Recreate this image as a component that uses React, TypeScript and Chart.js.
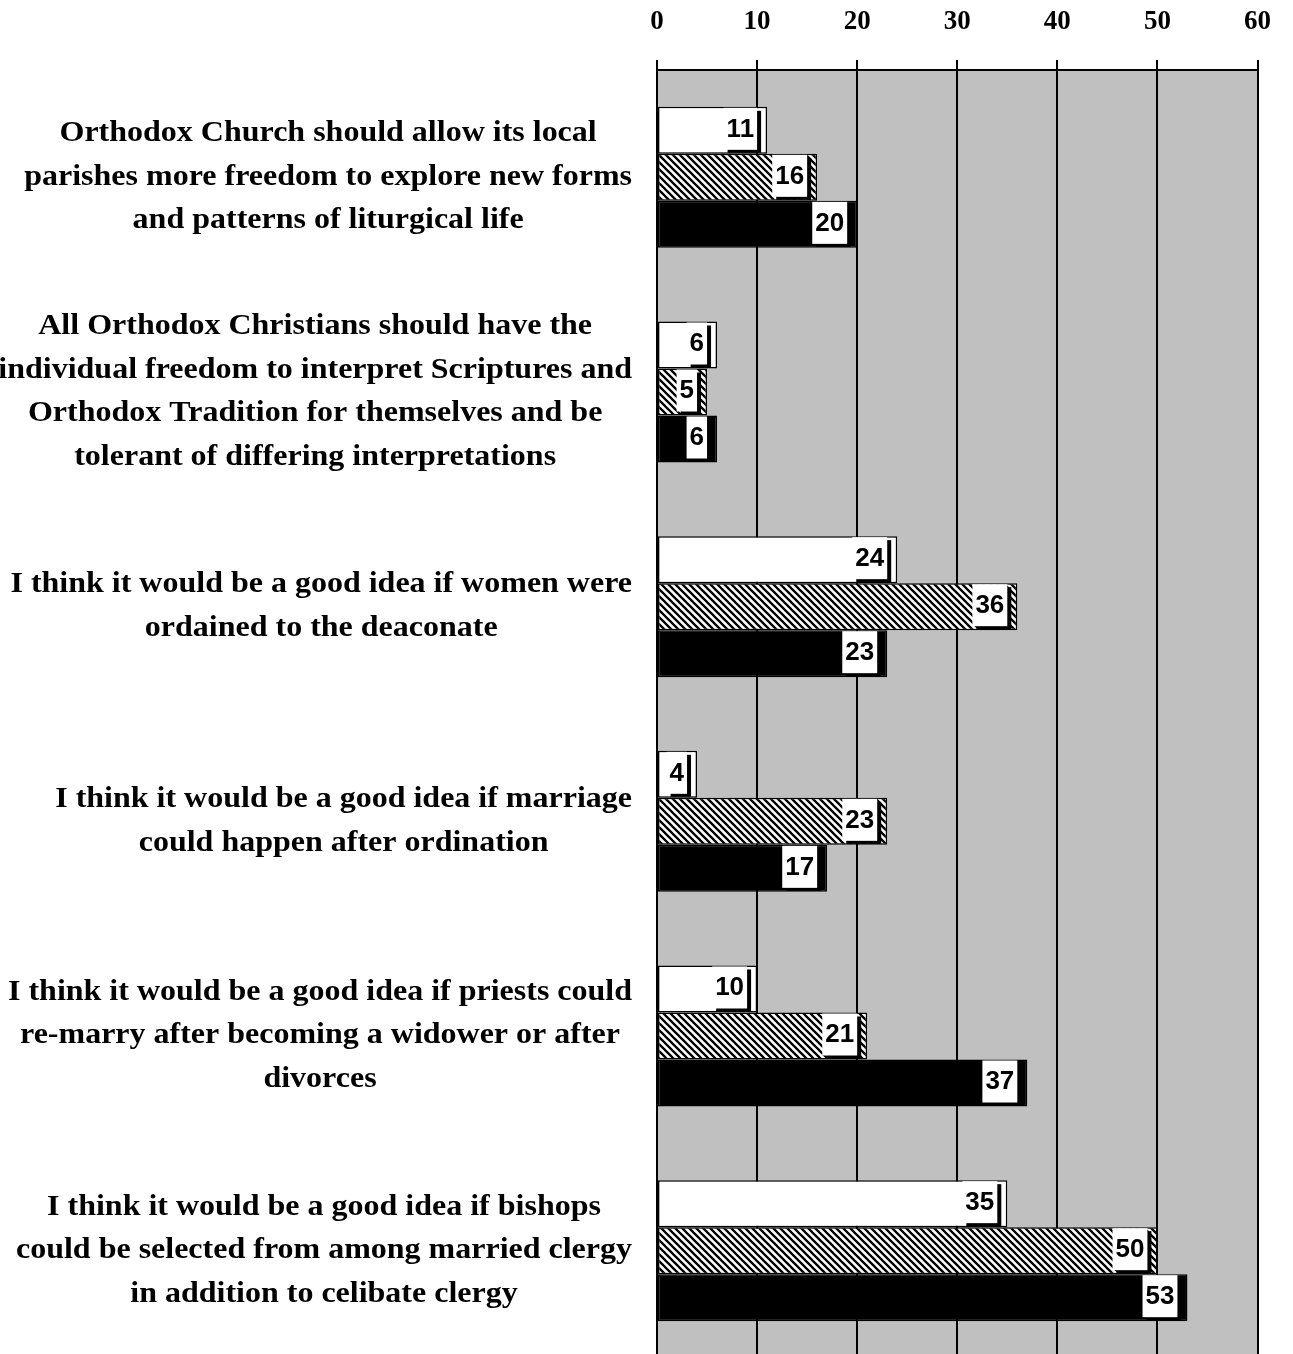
import React, { useEffect, useRef } from "react";
import { Chart, registerables } from "chart.js";

Chart.register(...registerables);

const categories: string[][] = [
  ["Orthodox Church should allow its local", "parishes more freedom to explore new forms", "and patterns of liturgical life"],
  ["All Orthodox Christians should have the", "individual freedom to interpret Scriptures and", "Orthodox Tradition for themselves and be", "tolerant of differing interpretations"],
  ["I think it would be a good idea if women were", "ordained to the deaconate"],
  ["I think it would be a good idea if marriage", "could happen after ordination"],
  ["I think it would be a good idea if priests could", "re-marry after becoming a widower or after", "divorces"],
  ["I think it would be a good idea if bishops", "could be selected from among married clergy", "in addition to celibate clergy"],
];

const seriesNames = ["Series 1", "Series 2", "Series 3"];
const whiteValues = [11, 6, 24, 4, 10, 35];
const hatchedValues = [16, 5, 36, 23, 21, 50];
const blackValues = [20, 6, 23, 17, 37, 53];
const xTickValues = [0, 10, 20, 30, 40, 50, 60];

const SERIF = "'Liberation Serif', 'Times New Roman', serif";
const SANS = "'Liberation Sans', Arial, sans-serif";

function makeHatch(): CanvasPattern | string {
  const s = 7;
  const c = document.createElement("canvas");
  c.width = s;
  c.height = s;
  const g = c.getContext("2d");
  if (!g) return "#888";
  g.fillStyle = "#ffffff";
  g.fillRect(0, 0, s, s);
  g.strokeStyle = "#000000";
  g.lineWidth = 2.3;
  g.beginPath();
  for (const k of [-s, 0, s]) {
    g.moveTo(-1, -1 + k);
    g.lineTo(s + 1, s + 1 + k);
  }
  g.stroke();
  const p = g.createPattern(c, "repeat");
  return p || "#888";
}

const bgPlugin = {
  id: "plotBg",
  beforeDraw(chart: any) {
    const { ctx, chartArea } = chart;
    if (!chartArea) return;
    ctx.save();
    ctx.fillStyle = "#c0c0c0";
    ctx.fillRect(chartArea.left, chartArea.top, chartArea.right - chartArea.left, chartArea.bottom - chartArea.top);
    ctx.restore();
  },
};

const catLabelPlugin = {
  id: "catLabels",
  afterDraw(chart: any) {
    const { ctx } = chart;
    const yScale = chart.scales.y;
    ctx.save();
    const size = 29;
    ctx.font = `bold ${size}px ${SERIF}`;
    const ref = ctx.measureText("I think it would be a good idea if priests could").width;
    const sx = 624 / ref;
    const rightEdge = 632;
    const lineH = 43.5;
    ctx.fillStyle = "#000";
    ctx.textAlign = "center";
    ctx.textBaseline = "middle";
    categories.forEach((lines, i) => {
      const cy = yScale.getPixelForValue(i);
      const widest = Math.max(...lines.map((l) => ctx.measureText(l).width)) * sx;
      const cx = rightEdge - widest / 2;
      lines.forEach((line, j) => {
        const ly = cy + (j - (lines.length - 1) / 2) * lineH;
        ctx.save();
        ctx.translate(cx, ly);
        ctx.scale(sx, 1);
        ctx.fillText(line, 0, 0);
        ctx.restore();
      });
    });
    ctx.restore();
  },
};

const valueLabelPlugin = {
  id: "valueLabels",
  afterDatasetsDraw(chart: any) {
    const { ctx } = chart;
    ctx.save();
    ctx.font = `bold 25px ${SANS}`;
    ctx.textAlign = "center";
    ctx.textBaseline = "middle";
    const sx = 1.04;
    chart.data.datasets.forEach((ds: any, di: number) => {
      const meta = chart.getDatasetMeta(di);
      meta.data.forEach((el: any, i: number) => {
        const p = el.getProps(["x", "y", "base", "height"], true);
        const text = String(ds.data[i]);
        const tw = ctx.measureText(text).width * sx;
        const bw = tw + 6;
        const bh = p.height - 5;
        const right = p.x - 10;
        const left = Math.max(right - bw, p.base + 1);
        const top = p.y - p.height / 2 + 1;
        ctx.fillStyle = "#000";
        ctx.fillRect(left + 4, top + 3, right - left, bh);
        ctx.fillStyle = "#fff";
        ctx.fillRect(left, top, right - left, bh);
        ctx.fillStyle = "#000";
        ctx.save();
        ctx.translate(right - bw / 2, top + bh / 2 + 1);
        ctx.scale(sx, 1);
        ctx.fillText(text, 0, 0);
        ctx.restore();
      });
    });
    ctx.restore();
  },
};

export default function App() {
  const canvasRef = useRef<HTMLCanvasElement | null>(null);

  useEffect(() => {
    const canvas = canvasRef.current;
    if (!canvas) return;
    const hatch = makeHatch();
    const chart = new Chart(canvas, {
      type: "bar",
      data: {
        labels: categories.map((c) => c.join(" ")),
        datasets: [
          { label: seriesNames[0], data: whiteValues, backgroundColor: "#ffffff", borderColor: "#000", borderWidth: 1.5, borderSkipped: false },
          { label: seriesNames[1], data: hatchedValues, backgroundColor: hatch as any, borderColor: "#000", borderWidth: 1.5, borderSkipped: false },
          { label: seriesNames[2], data: blackValues, backgroundColor: "#000000", borderColor: "#000", borderWidth: 1.5, borderSkipped: false },
        ],
      },
      options: {
        indexAxis: "y",
        animation: false,
        responsive: false,
        maintainAspectRatio: false,
        layout: { padding: { left: 0, right: 33, top: 0, bottom: 0 } },
        datasets: { bar: { categoryPercentage: 0.657, barPercentage: 1.0 } },
        plugins: { legend: { display: false }, tooltip: { enabled: false } },
        scales: {
          x: {
            position: "top",
            min: 0,
            max: 60,
            afterBuildTicks: (scale: any) => {
              scale.ticks = xTickValues.map((v) => ({ value: v }));
            },
            afterFit: (scale: any) => {
              scale.height = 70;
            },
            ticks: {
              color: "#000",
              padding: 22,
              font: { family: SERIF, weight: "bold", size: 27 },
              maxRotation: 0,
            },
            grid: { color: "#000", lineWidth: 2, drawTicks: true, tickLength: 10, tickColor: "#000" },
            border: { display: true, color: "#000", width: 2 },
          },
          y: {
            type: "category",
            afterFit: (scale: any) => {
              scale.width = 657;
            },
            ticks: { display: false },
            grid: { display: false },
            border: { display: true, color: "#000", width: 2 },
          },
        },
      },
      plugins: [bgPlugin, valueLabelPlugin, catLabelPlugin],
    });
    return () => chart.destroy();
  }, []);

  return (
    <div style={{ position: "absolute", left: 0, top: 0, width: 1293, height: 1354, overflow: "hidden", background: "#fff" }}>
      <canvas ref={canvasRef} width={1293} height={1358} style={{ display: "block", width: 1293, height: 1358 }} />
    </div>
  );
}
